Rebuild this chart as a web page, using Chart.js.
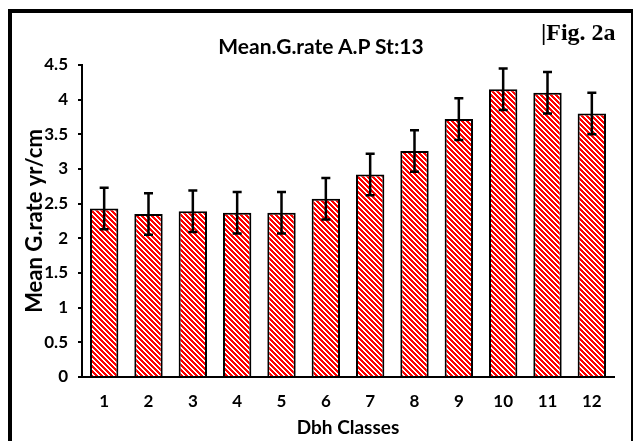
<!DOCTYPE html>
<html><head><meta charset="utf-8">
<script src="https://cdn.jsdelivr.net/npm/chart.js@4"></script>
<style>
html,body{margin:0;padding:0;background:#fff;overflow:hidden;}
#wrap{position:relative;width:634px;height:441px;overflow:hidden;}
#frame{position:absolute;left:8px;top:9px;width:619px;height:480px;border-left:4px solid #000;border-top:4px solid #000;border-right:2px solid #000;pointer-events:none;}
#fig{position:absolute;left:541px;top:20px;font-family:"Liberation Serif";font-weight:bold;font-size:24px;line-height:24px;color:#000;white-space:nowrap;}
#title{position:absolute;left:0;top:33px;width:642px;text-align:center;font-family:Lato;font-weight:bold;font-size:21px;line-height:25px;color:#000;white-space:nowrap;}
</style></head><body>
<div id="wrap"><canvas id="c" width="634" height="441"></canvas><div id="title">Mean.G.rate A.P St:13</div><div id="frame"></div><div id="fig">|Fig. 2a</div></div>
<script>
const categories = ['1','2','3','4','5','6','7','8','9','10','11','12'];
const meanRate = [2.43, 2.35, 2.39, 2.37, 2.37, 2.57, 2.92, 3.26, 3.72, 4.15, 4.10, 3.80];
const errors = [0.30, 0.30, 0.30, 0.30, 0.30, 0.30, 0.30, 0.30, 0.30, 0.30, 0.30, 0.30];
const yMin = 0, yMax = 4.5, yStep = 0.5;

function makeHatch(){
  const s = 5;
  const c = document.createElement('canvas'); c.width = s; c.height = s;
  const g = c.getContext('2d');
  const img = g.createImageData(s, s);
  for (let y = 0; y < s; y++) for (let x = 0; x < s; x++) {
    const red = (((x - y) % s) + s) % s < 3;
    const i = (y * s + x) * 4;
    img.data[i] = 255; img.data[i+1] = red ? 0 : 255; img.data[i+2] = red ? 0 : 255; img.data[i+3] = 255;
  }
  g.putImageData(img, 0, 0);
  return g.createPattern(c, 'repeat');
}

const errorBars = {
  id: 'errorBars',
  afterDatasetsDraw(chart){
    const ctx = chart.ctx, y = chart.scales.y;
    const meta = chart.getDatasetMeta(0);
    ctx.save();
    ctx.strokeStyle = '#000'; ctx.lineWidth = 2.5; ctx.lineCap = 'butt';
    meta.data.forEach((bar, i) => {
      const x = bar.x;
      const t = y.getPixelForValue(meanRate[i] + errors[i]);
      const b = y.getPixelForValue(meanRate[i] - errors[i]);
      ctx.beginPath();
      ctx.moveTo(x, t); ctx.lineTo(x, b);
      ctx.moveTo(x - 4.5, t); ctx.lineTo(x + 4.5, t);
      ctx.moveTo(x - 4.5, b); ctx.lineTo(x + 4.5, b);
      ctx.stroke();
    });
    ctx.restore();
  }
};

const font = (size) => ({family: 'Lato', weight: 'bold', size: size});

function draw(){
  new Chart(document.getElementById('c'), {
    type: 'bar',
    data: {
      labels: categories,
      datasets: [{
        data: meanRate,
        backgroundColor: makeHatch(),
        borderColor: '#000',
        borderWidth: 2,
        categoryPercentage: 1.0,
        barPercentage: 0.64
      }]
    },
    options: {
      responsive: false,
      animation: false,
      devicePixelRatio: 1,
      layout: {padding: {left: 28, right: 20, top: 65, bottom: 0}},
      plugins: {
        legend: {display: false},
        tooltip: {enabled: false},
        title: {display: false}
      },
      scales: {
        x: {
          grid: {display: false, drawTicks: false},
          border: {display: true, color: '#000', width: 2},
          ticks: {color: '#000', font: font(17), padding: 14},
          title: {display: true, text: 'Dbh Classes', color: '#000', font: font(19), padding: {top: 0, bottom: 2}},
          afterFit(s){ s.height = 64; }
        },
        y: {
          min: yMin, max: yMax,
          grid: {drawOnChartArea: false, color: '#000', lineWidth: 2, tickLength: 4},
          border: {color: '#000', width: 2},
          ticks: {stepSize: yStep, color: '#000', font: font(17), padding: 10, callback: (v) => String(Number(v.toFixed(1)))},
          title: {display: true, text: 'Mean G.rate yr/cm', color: '#000', font: font(22), padding: {top: -6, bottom: 0}},
          afterFit(s){ s.width = 54; }
        }
      }
    },
    plugins: [errorBars]
  });
}

Promise.all([
  document.fonts.load('bold 21px Lato'),
  document.fonts.load('bold 17px Lato'),
  document.fonts.load('bold 24px "Liberation Serif"')
]).then(draw, draw);
</script>
</body></html>
